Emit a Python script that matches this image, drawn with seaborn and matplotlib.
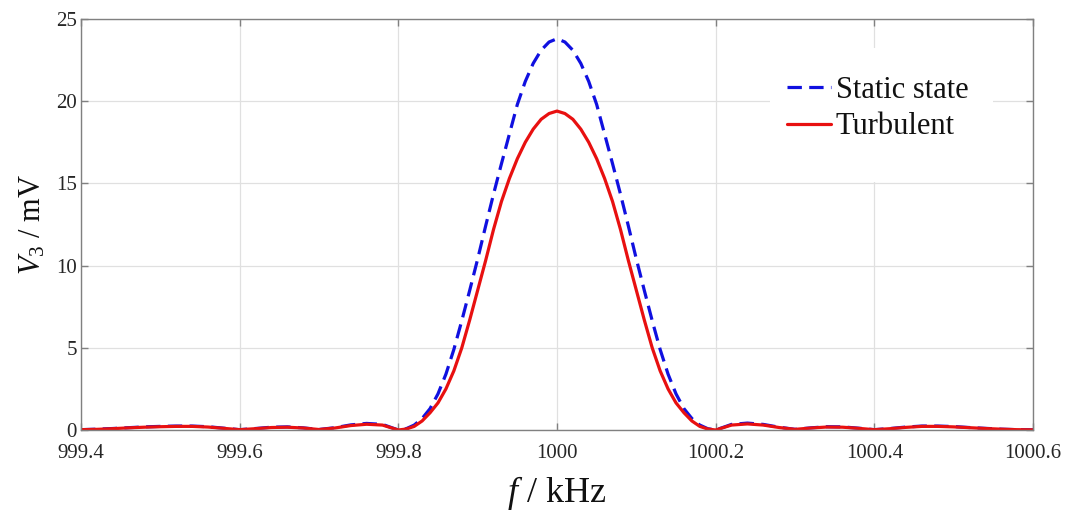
import numpy as np
import pandas as pd
import matplotlib
matplotlib.use("Agg")
import matplotlib.pyplot as plt
from matplotlib.patches import Rectangle
import seaborn as sns

# ---- data ----
freq_khz = [
    999.40, 999.42, 999.44, 999.46, 999.48, 999.50, 999.52, 999.54, 999.56, 999.58,
    999.60, 999.62, 999.64, 999.66, 999.68, 999.70, 999.72, 999.74, 999.76, 999.78,
    999.80, 999.81, 999.82, 999.83, 999.84, 999.85, 999.86, 999.87, 999.88, 999.89,
    999.90, 999.91, 999.92, 999.93, 999.94, 999.95, 999.96, 999.97, 999.98, 999.99,
    1000.00, 1000.01, 1000.02, 1000.03, 1000.04, 1000.05, 1000.06, 1000.07, 1000.08, 1000.09,
    1000.10, 1000.11, 1000.12, 1000.13, 1000.14, 1000.15, 1000.16, 1000.17, 1000.18, 1000.19,
    1000.20, 1000.22, 1000.24, 1000.26, 1000.28, 1000.30, 1000.32, 1000.34, 1000.36, 1000.38,
    1000.40, 1000.42, 1000.44, 1000.46, 1000.48, 1000.50, 1000.52, 1000.54, 1000.56, 1000.58,
    1000.60,
]

static_mv = [
    0.02, 0.05, 0.09, 0.14, 0.19, 0.22, 0.24, 0.24, 0.20, 0.11,
    0.02, 0.09, 0.17, 0.19, 0.13, 0.03, 0.14, 0.31, 0.40, 0.34,
    0.00, 0.08, 0.30, 0.70, 1.30, 2.20, 3.40, 4.90, 6.65, 8.50,
    10.40, 12.40, 14.35, 16.20, 18.00, 19.80, 21.20, 22.30, 23.10, 23.60,
    23.80, 23.60, 23.10, 22.30, 21.20, 19.80, 18.00, 16.20, 14.35, 12.40,
    10.40, 8.50, 6.65, 4.90, 3.40, 2.20, 1.30, 0.70, 0.30, 0.08,
    0.00, 0.34, 0.42, 0.34, 0.17, 0.04, 0.13, 0.20, 0.19, 0.11,
    0.02, 0.09, 0.18, 0.24, 0.24, 0.21, 0.15, 0.10, 0.05, 0.02,
    0.01,
]

turbulent_mv = [
    0.02, 0.04, 0.08, 0.13, 0.17, 0.20, 0.22, 0.22, 0.18, 0.10,
    0.02, 0.08, 0.15, 0.17, 0.12, 0.03, 0.12, 0.27, 0.35, 0.30,
    0.00, 0.06, 0.22, 0.55, 1.05, 1.65, 2.50, 3.60, 5.00, 6.70,
    8.50, 10.30, 12.20, 13.90, 15.30, 16.50, 17.50, 18.30, 18.90, 19.25,
    19.40, 19.25, 18.90, 18.30, 17.50, 16.50, 15.30, 13.90, 12.20, 10.30,
    8.50, 6.70, 5.00, 3.60, 2.50, 1.65, 1.05, 0.55, 0.22, 0.06,
    0.00, 0.30, 0.37, 0.30, 0.15, 0.04, 0.12, 0.18, 0.17, 0.10,
    0.02, 0.08, 0.16, 0.22, 0.22, 0.19, 0.14, 0.09, 0.05, 0.02,
    0.01,
]

series_labels = ["Static state", "Turbulent"]
x_ticks = [999.4, 999.6, 999.8, 1000.0, 1000.2, 1000.4, 1000.6]
x_tick_labels = ["999.4", "999.6", "999.8", "1000", "1000.2", "1000.4", "1000.6"]
y_ticks = [0, 5, 10, 15, 20, 25]

# ---- style ----
sns.set_theme(style="whitegrid")
plt.rcParams["font.family"] = ["Liberation Serif", "DejaVu Serif"]
plt.rcParams["mathtext.fontset"] = "custom"
plt.rcParams["mathtext.rm"] = "Liberation Serif"
plt.rcParams["mathtext.it"] = "Liberation Serif:italic"

df = pd.DataFrame({"f": freq_khz, "static": static_mv, "turb": turbulent_mv})

fig = plt.figure(figsize=(10.67, 5.14), dpi=100)
ax = fig.add_axes([81 / 1067, 1 - 430 / 514, (1033 - 81) / 1067, (430 - 19) / 514])
ax.set_facecolor("white")

sns.lineplot(data=df, x="f", y="static", ax=ax, color="#1010e0", linewidth=2.3,
             label=series_labels[0])
ax.lines[-1].set_dashes((4.5, 2.3))
sns.lineplot(data=df, x="f", y="turb", ax=ax, color="#e81010", linewidth=2.3,
             label=series_labels[1])

ax.set_xlim(999.4, 1000.6)
ax.set_ylim(0, 25)
ax.set_xticks(x_ticks)
ax.set_xticklabels(x_tick_labels)
ax.set_yticks(y_ticks)

ax.grid(True, color="#e0e0e0", linewidth=0.9)
for s in ax.spines.values():
    s.set_visible(True)
    s.set_color("#808080")
    s.set_linewidth(1.0)

ax.tick_params(axis="both", which="both", direction="in", length=5, width=1.0,
               color="#808080", labelsize=15, labelcolor="#262626",
               top=True, right=True, bottom=True, left=True)
ax.tick_params(axis="x", pad=10)
ax.tick_params(axis="y", pad=3)

ax.set_xlabel(r"$\mathit{f}$ / kHz", fontsize=26, color="#111111", labelpad=8)
ax.set_ylabel(r"$\mathit{V}_{3}$ / mV", fontsize=22, color="#111111", labelpad=6)

# white background box behind the legend (hides grid lines as in reference)
ax.add_patch(Rectangle((0.724, 0.603), 0.234, 0.326, transform=ax.transAxes,
                       facecolor="white", edgecolor="none", zorder=1))

leg = ax.legend(loc="upper left", bbox_to_anchor=(0.7416, 0.862), fontsize=22,
                frameon=False, handlelength=1.45, handletextpad=0.15,
                labelspacing=0.25, borderpad=0, borderaxespad=0)
for t in leg.get_texts():
    t.set_color("#111111")

fig.savefig("out.png", dpi=100)
